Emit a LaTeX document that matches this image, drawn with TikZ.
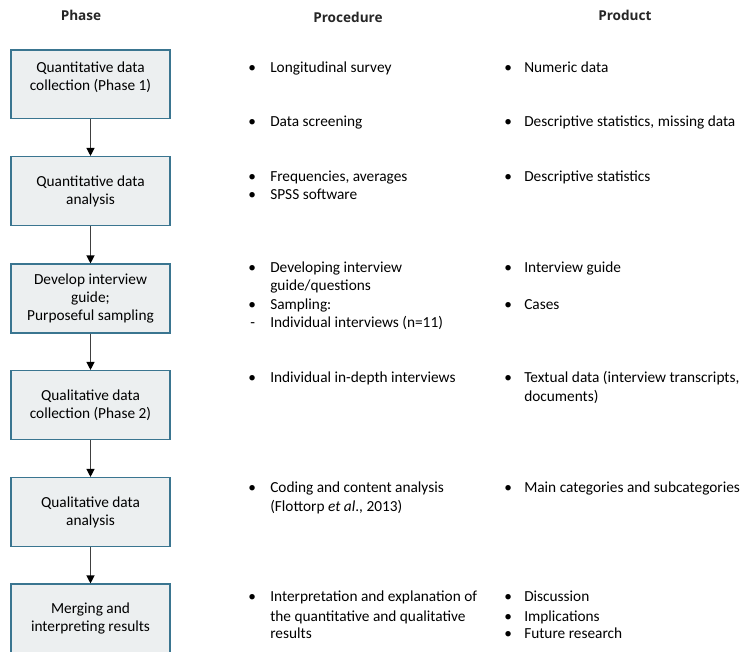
\documentclass[tikz,border=0pt]{standalone}
\usepackage{fontspec}
\setmainfont{Carlito}
\newfontfamily\headfont{Open Sans}
\usetikzlibrary{arrows.meta}
\definecolor{boxline}{HTML}{3A7590}
\definecolor{boxfill}{HTML}{ECEFF0}
\definecolor{arrowgrey}{HTML}{404040}
\begin{document}
\begin{tikzpicture}[x=0.75pt,y=-0.75pt,
  phasebox/.style={draw=boxline,fill=boxfill,line width=1.1pt,minimum width=119.25pt,minimum height=51.5pt,align=center,inner sep=0pt,font=\fontsize{11.5}{13.4}\selectfont},
  flowarrow/.style={draw=arrowgrey,line width=0.9pt,-{Triangle[length=6pt,width=6pt,color=black]}},
  txt/.style={anchor=base west,inner sep=0pt,font=\fontsize{11.5}{13.4}\selectfont},
  head/.style={anchor=base west,inner sep=0pt,font=\headfont\bfseries\fontsize{10.2}{12}\selectfont,text=black!85}]
\useasboundingbox (0,0) rectangle (742,651);
\clip (0,0) rectangle (742,651);
% headers
\node[head,anchor=base] (hphase) at (81,20.5) {Phase};
\node[head] (hproc) at (313,22.5) {Procedure};
\node[head] (hprod) at (598,20.5) {Product};
% phase boxes
\node[phasebox] (b1) at (90.5,84.2) {Quantitative data\\collection (Phase 1)\\[-6pt]\strut};
\node[phasebox] (b2) at (90.5,191) {Quantitative data\\analysis};
\node[phasebox] (b3) at (90.5,298.5) {Develop interview\\guide;\\Purposeful sampling};
\node[phasebox] (b4) at (90.5,405) {Qualitative data\\collection (Phase 2)};
\node[phasebox] (b5) at (90.5,512) {Qualitative data\\analysis};
\node[phasebox] (b6) at (90.5,618.5) {Merging and\\interpreting results};
\draw[flowarrow] (b1.south) -- (b2.north);
\draw[flowarrow] (b2.south) -- (b3.north);
\draw[flowarrow] (b3.south) -- (b4.north);
\draw[flowarrow] (b4.south) -- (b5.north);
\draw[flowarrow] (b5.south) -- (b6.north);
% procedure column
\node[txt] (pb1) at (248,72.5) {•};  \node[txt] (p1) at (270,72.5) {Longitudinal survey};
\node[txt] (pb2) at (248,126.5) {•}; \node[txt] (p2) at (270,126.5) {Data screening};
\node[txt] (pb3) at (248,181.5) {•}; \node[txt] (p3) at (270,181.5) {Frequencies, averages};
\node[txt] (pb4) at (248,199.5) {•}; \node[txt] (p4) at (270,199.5) {SPSS software};
\node[txt] (pb5) at (248,272.5) {•}; \node[txt] (p5) at (270,272.5) {Developing interview};
\node[txt] (p5b) at (270,290.5) {guide/questions};
\node[txt] (pb6) at (248,309.5) {•}; \node[txt] (p6) at (270,309.5) {Sampling:};
\node[txt] (pd7) at (250,327.5) {-}; \node[txt] (p7) at (270,327.5) {Individual interviews (n=11)};
\node[txt] (pb8) at (248,382.5) {•}; \node[txt] (p8) at (270,382.5) {Individual in-depth interviews};
\node[txt] (pb9) at (248,492.5) {•}; \node[txt] (p9) at (270,492.5) {Coding and content analysis};
\node[txt] (p9b) at (270,511.5) {(Flottorp \textit{et al}., 2013)};
\node[txt] (pb10) at (248,601.5) {•}; \node[txt] (p10) at (270,601.5) {Interpretation and explanation of};
\node[txt] (p10b) at (270,621) {the quantitative and qualitative};
\node[txt] (p10c) at (270,638.5) {results};
% product column
\node[txt] (rb1) at (504,72.5) {•};  \node[txt] (r1) at (524,72.5) {Numeric data};
\node[txt] (rb2) at (504,126.5) {•}; \node[txt] (r2) at (524,126.5) {Descriptive statistics, missing data};
\node[txt] (rb3) at (504,181.5) {•}; \node[txt] (r3) at (524,181.5) {Descriptive statistics};
\node[txt] (rb4) at (504,272.5) {•}; \node[txt] (r4) at (524,272.5) {Interview guide};
\node[txt] (rb5) at (504,309.5) {•}; \node[txt] (r5) at (524,309.5) {Cases};
\node[txt] (rb6) at (504,382.5) {•}; \node[txt] (r6) at (524,382.5) {Textual data (interview transcripts,};
\node[txt] (r6b) at (524,401.5) {documents)};
\node[txt] (rb7) at (504,492.5) {•}; \node[txt] (r7) at (524,492.5) {Main categories and subcategories};
\node[txt] (rb8) at (504,601.5) {•}; \node[txt] (r8) at (524,601.5) {Discussion};
\node[txt] (rb9) at (504,621) {•}; \node[txt] (r9) at (524,621) {Implications};
\node[txt] (rb10) at (504,638.5) {•}; \node[txt] (r10) at (524,638.5) {Future research};
\end{tikzpicture}
\end{document}
